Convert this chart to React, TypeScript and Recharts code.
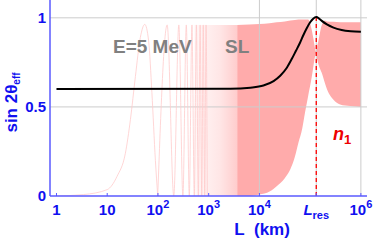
import { ComposedChart, Line, Area, XAxis, YAxis } from 'recharts';

const L_RES = 1.32e5;
const X_MIN = 0.745;
const X_MAX = 1.32e6;
const FONT = '"Liberation Sans", Arial, sans-serif';
const BLUE = '#1010f0';
const AXIS_BLUE = '#5a5aff';
const PINK = '#ffabab';
const GRID = '#cccccc';

// x ticks (km)
const xTicks = [1, 10, 100, 1000, 10000, L_RES, 1e6];
const yTicks = [0, 0.5, 1];
const gridY = [0.5, 1];
const gridX = [10000, L_RES, 1e6];

// first vacuum-like oscillation lobe
const lobe1L = [1, 3.4, 10, 15.6, 22.8, 28.7, 35.9, 45, 55, 65.5, 76, 89, 99];
const lobe1P = [0, 0.008, 0.036, 0.11, 0.24, 0.43, 0.67, 0.89, 0.963, 0.87, 0.58, 0.2, 0];

// later lobes, zero / peak
const lobesL = [99, 152, 205, 258, 310, 362, 415, 468, 520, 572, 625, 678, 730, 782, 835, 888, 940];
const lobesP = [0, 0.96, 0, 0.96, 0, 0.96, 0, 0.96, 0, 0.96, 0, 0.96, 0, 0.96, 0, 0.96, 0];

// fast-oscillation zone, drawn as a band (faint part)
const fadeL = [520, 3650];
const fadeLow = [0, 0];
const fadeHigh = [0.96, 0.96];

// fast-oscillation zone, solid envelope
const bandL = [3650, 6300, 10000, 15850, 21900, 31600, 40700, 50000, 58900, 70000, 79400, 91200, 107900, 114800, 131800,
  134900, 145500, 169800, 197200, 213800, 288400, 389000, 616600, 1e6];
const bandLow = [0, 0, 0.008, 0.025, 0.055, 0.1, 0.15, 0.22, 0.3, 0.38, 0.47, 0.56, 0.67, 0.72, 0.8,
  0.78, 0.74, 0.69, 0.63, 0.6, 0.54, 0.514, 0.505, 0.5];
const bandHigh = [0.96, 0.962, 0.965, 0.97, 0.975, 0.98, 0.985, 0.988, 0.99, 0.99, 0.99, 0.99, 0.93, 0.89, 0.81,
  0.83, 0.87, 0.96, 0.985, 0.98, 0.978, 0.975, 0.975, 0.975];

// sin 2θ_eff
const effL = [1, 2700, 6600, 12000, 19000, 25700, 34700, 43600, 52500, 63100, 74100, 85100, 100000, 114800, 131800,
  151400, 169800, 213800, 288400, 417000, 631000, 1e6];
const effS = [0.6, 0.602, 0.608, 0.62, 0.645, 0.675, 0.72, 0.77, 0.815, 0.86, 0.905, 0.94, 0.975, 0.995, 1.004,
  0.995, 0.983, 0.963, 0.945, 0.932, 0.925, 0.922];

const lobe1Data = lobe1L.map((L, i) => ({ L, p: lobe1P[i] }));
const lobesData = lobesL.map((L, i) => ({ L, p: lobesP[i] }));
const fadeData = fadeL.map((L, i) => ({ L, band: [fadeLow[i], fadeHigh[i]] }));
const bandData = bandL.map((L, i) => ({ L, band: [bandLow[i], bandHigh[i]] }));
const effData = effL.map((L, i) => ({ L, s: effS[i] }));
const resLine = [{ L: L_RES, y: 0 }, { L: L_RES, y: 1 }];

function XTick(props: any) {
  const { x, y, payload } = props;
  const v = payload.value;
  let content: any;
  if (v === L_RES) {
    content = (
      <>
        <tspan fontStyle="italic">L</tspan>
        <tspan fontSize={11} dy={4}>res</tspan>
      </>
    );
  } else if (v < 100) {
    content = String(v);
  } else {
    content = (
      <>
        10<tspan fontSize={11} dy={-7}>{Math.round(Math.log10(v))}</tspan>
      </>
    );
  }
  return (
    <g>
      <line x1={x} x2={x} y1={y - 3} y2={y} stroke={AXIS_BLUE} strokeWidth={1} />
      <text x={x} y={y + 19} textAnchor="middle" fill={BLUE} fontSize={15} fontWeight="bold" fontFamily={FONT}>
        {content}
      </text>
    </g>
  );
}

export default function App() {
  return (
    <div style={{ position: 'fixed', left: 0, top: 0, width: 374, height: 243, background: '#fff' }}>
      <ComposedChart width={374} height={243} margin={{ top: 0, right: 7, bottom: 0, left: 0 }}>
        <defs>
          <linearGradient id="fadeGrad" x1="0" y1="0" x2="1" y2="0">
            <stop offset="0%" stopColor={PINK} stopOpacity={0.08} />
            <stop offset="60%" stopColor={PINK} stopOpacity={0.3} />
            <stop offset="100%" stopColor={PINK} stopOpacity={0.6} />
          </linearGradient>
        </defs>
        <XAxis
          type="number"
          dataKey="L"
          scale="log"
          domain={[X_MIN, X_MAX]}
          ticks={xTicks}
          allowDataOverflow
          height={47}
          tickSize={0}
          tickMargin={0}
          tick={<XTick />}
          stroke={AXIS_BLUE}
          strokeWidth={1.5}
          interval={0}
        />
        <YAxis
          type="number"
          domain={[0, 1.1]}
          ticks={yTicks}
          allowDataOverflow
          width={50}
          tickSize={0}
          tickMargin={4}
          stroke={AXIS_BLUE}
          strokeWidth={1.5}
          tick={{ fill: BLUE, fontSize: 15, fontWeight: 'bold', fontFamily: FONT }}
        />
        {/* grid lines as series so they stay under the pink */}
        {gridY.map((g) => (
          <Line key={'gy' + g} data={[{ L: X_MIN, y: g }, { L: X_MAX, y: g }]} dataKey="y" type="linear"
            stroke={GRID} strokeWidth={1} dot={false} isAnimationActive={false} />
        ))}
        {gridX.map((g) => (
          <Line key={'gx' + g} data={[{ L: g, y: 0 }, { L: g, y: 1.1 }]} dataKey="y" type="linear"
            stroke={GRID} strokeWidth={1} dot={false} isAnimationActive={false} />
        ))}
        <Line data={lobe1Data} dataKey="p" type="monotone" stroke="#ffcccc" strokeWidth={0.8} dot={false} isAnimationActive={false} />
        <Line data={lobesData} dataKey="p" type="monotone" stroke="#ffcccc" strokeWidth={0.8} dot={false} isAnimationActive={false} />
        <Area data={fadeData} dataKey="band" type="linear" stroke="none" fill="url(#fadeGrad)" fillOpacity={1} isAnimationActive={false} />
        <Area data={bandData} dataKey="band" type="monotone" stroke="none" fill={PINK} fillOpacity={1} isAnimationActive={false} />
        <Line data={resLine} dataKey="y" type="linear" stroke="#ff0000" strokeWidth={1.3} strokeDasharray="4 3" dot={false} isAnimationActive={false} />
        <Line data={effData} dataKey="s" type="monotone" stroke="#000000" strokeWidth={2} dot={false} isAnimationActive={false} />
      </ComposedChart>
      <svg width={374} height={243} style={{ position: 'absolute', left: 0, top: 0, pointerEvents: 'none' }}>
        <text x={113} y={52.5} fill="#808080" fontSize={19} fontWeight="bold" fontFamily={FONT}>E=5 MeV</text>
        <text x={225} y={52.5} fill="#808080" fontSize={19} fontWeight="bold" fontFamily={FONT}>SL</text>
        <text x={333} y={140} fill="#ee0000" fontSize={18} fontWeight="bold" fontFamily={FONT}>
          <tspan fontStyle="italic">n</tspan>
          <tspan fontSize={13} dy={4}>1</tspan>
        </text>
        <text transform="translate(17,102.5) rotate(-90)" textAnchor="middle" fill={BLUE} fontSize={17} fontWeight="bold" fontFamily={FONT}>
          sin 2θ<tspan fontSize={10} dy={3}>eff</tspan>
        </text>
        <text x={262} y={235} textAnchor="middle" fill={BLUE} fontSize={17} fontWeight="bold" fontFamily={FONT}>
          L{'\u00a0\u00a0'}(km)
        </text>
      </svg>
    </div>
  );
}
